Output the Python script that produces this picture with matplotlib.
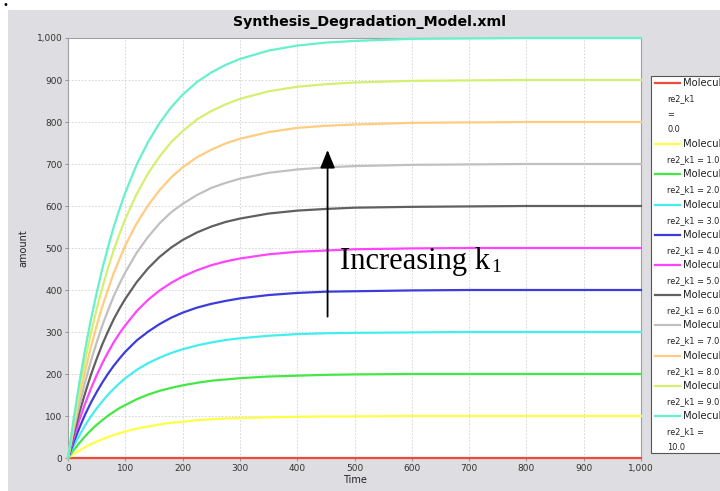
import matplotlib
matplotlib.use("Agg")
import matplotlib.pyplot as plt
from matplotlib.patches import Rectangle
from matplotlib.lines import Line2D
from matplotlib.ticker import FuncFormatter, MultipleLocator

plt.rcParams['font.family'] = ['DejaVu Sans']

# ---- data ----
time = [0, 10, 20, 30, 40, 50, 60, 70, 80, 90, 100, 120, 140, 160, 180, 200, 225, 250, 275, 300,
        350, 400, 450, 500, 600, 700, 800, 900, 1000]
k1_values = [0.0, 1.0, 2.0, 3.0, 4.0, 5.0, 6.0, 7.0, 8.0, 9.0, 10.0]
mol_k0 = [0] * 29
mol_k1 = [0, 10, 18, 26, 33, 39, 45, 50, 55, 59, 63, 70, 75, 80, 84, 86, 90, 92, 94, 95, 97, 98, 99, 99, 100, 100, 100, 100, 100]
mol_k2 = [0, 19, 36, 52, 66, 79, 90, 101, 110, 119, 126, 140, 151, 160, 167, 173, 179, 184, 187, 190, 194, 196, 198, 199, 200, 200, 200, 200, 200]
mol_k3 = [0, 29, 54, 78, 99, 118, 135, 151, 165, 178, 190, 210, 226, 239, 250, 259, 268, 275, 281, 285, 291, 295, 297, 298, 299, 300, 300, 300, 300]
mol_k4 = [0, 38, 72, 104, 132, 157, 180, 201, 220, 237, 253, 280, 301, 319, 334, 346, 358, 367, 374, 380, 388, 393, 396, 397, 399, 400, 400, 400, 400]
mol_k5 = [0, 48, 91, 130, 165, 197, 226, 252, 276, 297, 316, 350, 377, 399, 417, 432, 447, 459, 468, 475, 485, 491, 494, 497, 499, 500, 500, 500, 500]
mol_k6 = [0, 57, 109, 155, 198, 236, 271, 302, 331, 356, 379, 419, 452, 479, 501, 519, 537, 551, 562, 570, 582, 589, 593, 596, 598, 599, 600, 600, 600]
mol_k7 = [0, 67, 127, 181, 231, 275, 316, 352, 386, 415, 442, 489, 527, 559, 585, 605, 626, 643, 655, 665, 679, 687, 692, 695, 698, 699, 700, 700, 700]
mol_k8 = [0, 76, 145, 207, 264, 315, 361, 402, 441, 474, 506, 559, 602, 638, 668, 692, 716, 734, 749, 760, 776, 786, 791, 794, 798, 799, 800, 800, 800]
mol_k9 = [0, 86, 163, 233, 297, 354, 406, 453, 496, 534, 569, 629, 678, 718, 752, 778, 806, 826, 842, 855, 873, 884, 890, 894, 898, 899, 900, 900, 900]
mol_k10 = [0, 95, 181, 259, 330, 393, 451, 503, 551, 593, 632, 699, 753, 798, 835, 865, 895, 918, 936, 950, 970, 982, 989, 993, 998, 999, 1000, 1000, 1000]
series = [mol_k0, mol_k1, mol_k2, mol_k3, mol_k4, mol_k5, mol_k6, mol_k7, mol_k8, mol_k9, mol_k10]
colors = ['#ee4a3c', '#ffff44', '#44e844', '#44eeee', '#3c3cdc', '#ff44ff',
          '#606060', '#c0c0c0', '#ffcc80', '#d4f070', '#66f0cc']

W, H = 720, 491
fig = plt.figure(figsize=(W / 100, H / 100), dpi=100, facecolor='white')

def fx(x):
    return x / W

def fy(y):
    return 1 - y / H

# gray panel
fig.patches.append(Rectangle((fx(8), 0), fx(712), 1 - 10 / H, transform=fig.transFigure,
                             facecolor='#dedee2', edgecolor='none', zorder=-10))
# small dot at top-left
fig.text(fx(5), fy(5), '•', fontsize=7, ha='center', va='center', color='black')

ax = fig.add_axes([fx(68), fy(458), fx(641 - 68), (458 - 38) / H])
ax.set_zorder(5)
ax.set_facecolor('white')
for vals, c in zip(series, colors):
    ax.plot(time, vals, color=c, lw=1.6, zorder=3, clip_on=False)

ax.set_xlim(0, 1000)
ax.set_ylim(0, 1000)
ax.xaxis.set_major_locator(MultipleLocator(100))
ax.yaxis.set_major_locator(MultipleLocator(100))
fmt = FuncFormatter(lambda v, p: f"{int(v):,}")
ax.xaxis.set_major_formatter(fmt)
ax.yaxis.set_major_formatter(fmt)
ax.grid(True, color='#d0d0d0', ls=(0, (2, 2)), lw=0.6)
ax.tick_params(labelsize=6.5, colors='#333333', length=2, width=0.6, pad=2)
ax.tick_params(color='#888888')
for s in ax.spines.values():
    s.set_color('#a0a0a0')
    s.set_linewidth(0.8)
    s.set_zorder(2)
ax.set_xlabel('Time', fontsize=7, color='#222222', labelpad=2)
ax.set_ylabel('amount', fontsize=7, color='#222222', labelpad=6)
fig.text(fx(370), fy(22), 'Synthesis_Degradation_Model.xml', fontsize=10.2, fontweight='bold',
         ha='center', va='center')

# arrow and annotation
ax.annotate('', xy=(453, 740), xytext=(453, 330),
            arrowprops=dict(arrowstyle='-|>,head_width=0.45,head_length=1.1', color='black', lw=1.3),
            zorder=5)
t1 = ax.text(475, 450, 'Increasing k', family='Liberation Serif', fontsize=22,
             va='baseline', ha='left', color='black', zorder=5)
ax.annotate('1', xy=(1, 0), xycoords=t1, xytext=(1, 3), textcoords='offset points',
            family='Liberation Serif', fontsize=14, va='baseline', ha='left', color='black', zorder=5)

# legend box (manual, clipped by figure edge)
fig.patches.append(Rectangle((fx(651), fy(453)), fx(100), (453 - 76) / H, transform=fig.transFigure,
                             facecolor='white', edgecolor='#555555', lw=0.8, zorder=1))
line_y = [83, 144, 174, 205, 235, 265, 295, 325, 356, 386, 416]
for i, (k, c, ly) in enumerate(zip(k1_values, colors, line_y)):
    fig.lines.append(Line2D([fx(655), fx(680)], [fy(ly), fy(ly)], transform=fig.transFigure,
                            color=c, lw=1.6, zorder=2))
    fig.text(fx(683), fy(ly), 'Molecule', fontsize=7.2, va='center', ha='left', color='#222222')
    if i == 0:
        sub = ['re2_k1', '=', f'{k:.1f}']
    elif i == 10:
        sub = ['re2_k1 =', f'{k:.1f}']
    else:
        sub = [f're2_k1 = {k:.1f}']
    for j, s in enumerate(sub):
        fig.text(fx(667), fy(ly + 16 + 15.5 * j), s, fontsize=5.9, va='center', ha='left', color='#222222')

fig.savefig('out.png', dpi=100, facecolor='white')
